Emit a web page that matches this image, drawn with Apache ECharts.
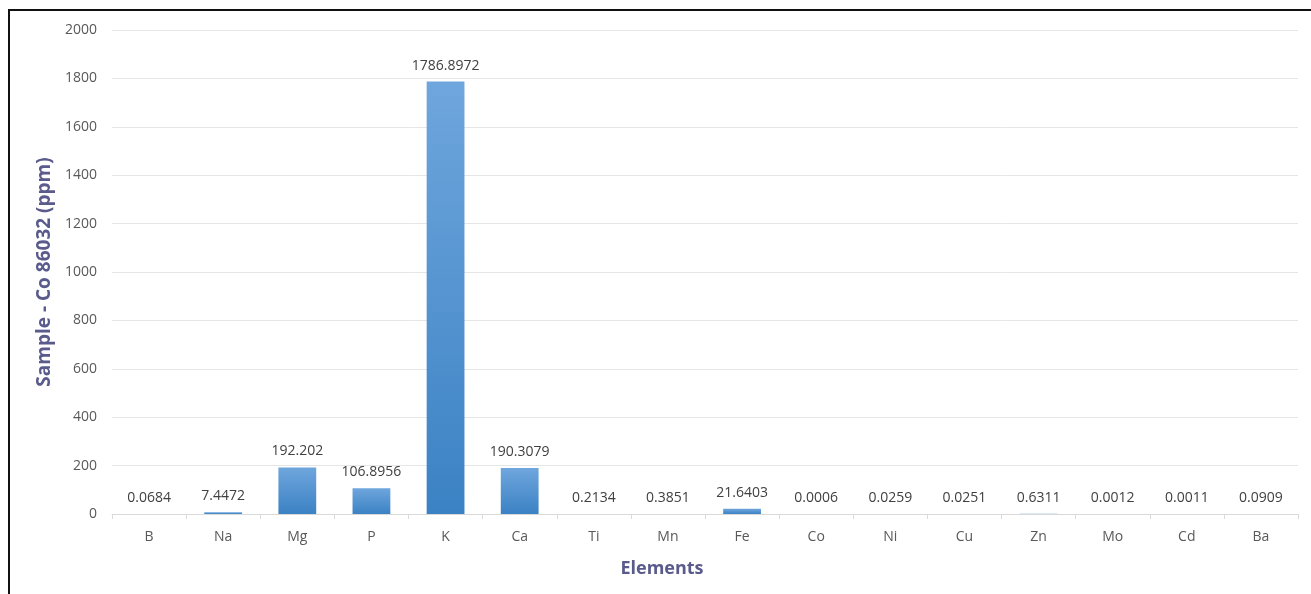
<!DOCTYPE html>
<html><head><meta charset="utf-8">
<script src="https://cdn.jsdelivr.net/npm/echarts@6/dist/echarts.min.js"></script>
<style>
html,body{margin:0;padding:0;background:#fff;}
#frame{position:absolute;left:8px;top:9px;width:1303px;height:585px;border-left:2px solid #111;border-top:2px solid #111;box-sizing:border-box;}
#c{position:absolute;left:0;top:0;width:1311px;height:594px;}
</style></head>
<body>
<div id="frame"></div>
<div id="c"></div>
<script>
const categories = ['B','Na','Mg','P','K','Ca','Ti','Mn','Fe','Co','Ni','Cu','Zn','Mo','Cd','Ba'];
const values = [0.0684, 7.4472, 192.202, 106.8956, 1786.8972, 190.3079, 0.2134, 0.3851, 21.6403, 0.0006, 0.0259, 0.0251, 0.6311, 0.0012, 0.0011, 0.0909];
const valueLabels = ['0.0684','7.4472','192.202','106.8956','1786.8972','190.3079','0.2134','0.3851','21.6403','0.0006','0.0259','0.0251','0.6311','0.0012','0.0011','0.0909'];
const yTicks = [0, 200, 400, 600, 800, 1000, 1200, 1400, 1600, 1800, 2000];

const font = '"Open Sans", Lato, sans-serif';
const chart = echarts.init(document.getElementById('c'), null, {renderer:'canvas'});
chart.setOption({
  animation: false,
  backgroundColor: 'transparent',
  grid: {left: 112, right: 13, top: 30, bottom: 80},
  xAxis: {
    type: 'category',
    data: categories,
    name: 'Elements',
    nameLocation: 'middle',
    nameGap: 46,
    nameTextStyle: {color: '#5a5a8c', fontSize: 18, fontWeight: 'bold', fontFamily: font, padding: [0, 86, 0, 0]},
    axisLine: {lineStyle: {color: '#d9d9d9', width: 1}},
    axisTick: {show: true, length: 5, lineStyle: {color: '#d9d9d9'}},
    axisLabel: {color: '#595959', fontSize: 14, fontFamily: font, margin: 16},
    splitLine: {show: false}
  },
  yAxis: {
    type: 'value',
    min: yTicks[0],
    max: yTicks[yTicks.length - 1],
    interval: 200,
    name: 'Sample - Co 86032 (ppm)',
    nameLocation: 'middle',
    nameGap: 58,
    nameTextStyle: {color: '#5a5a8c', fontSize: 19, fontWeight: 'bold', fontFamily: font},
    axisLine: {show: false},
    axisTick: {show: false},
    axisLabel: {color: '#595959', fontSize: 14, fontFamily: font, margin: 15, formatter: v => String(v)},
    splitLine: {lineStyle: {color: '#e6e6e6', width: 1}}
  },
  series: [{
    type: 'bar',
    data: values,
    barWidth: '51%',
    itemStyle: {
      color: new echarts.graphic.LinearGradient(0, 0, 0, 1, [
        {offset: 0, color: '#6fa6dd'},
        {offset: 1, color: '#3b82c4'}
      ])
    },
    label: {
      show: true,
      position: 'top',
      distance: 9,
      color: '#404040',
      fontSize: 14,
      fontFamily: font,
      formatter: p => valueLabels[p.dataIndex]
    }
  }]
});
</script>
</body></html>
